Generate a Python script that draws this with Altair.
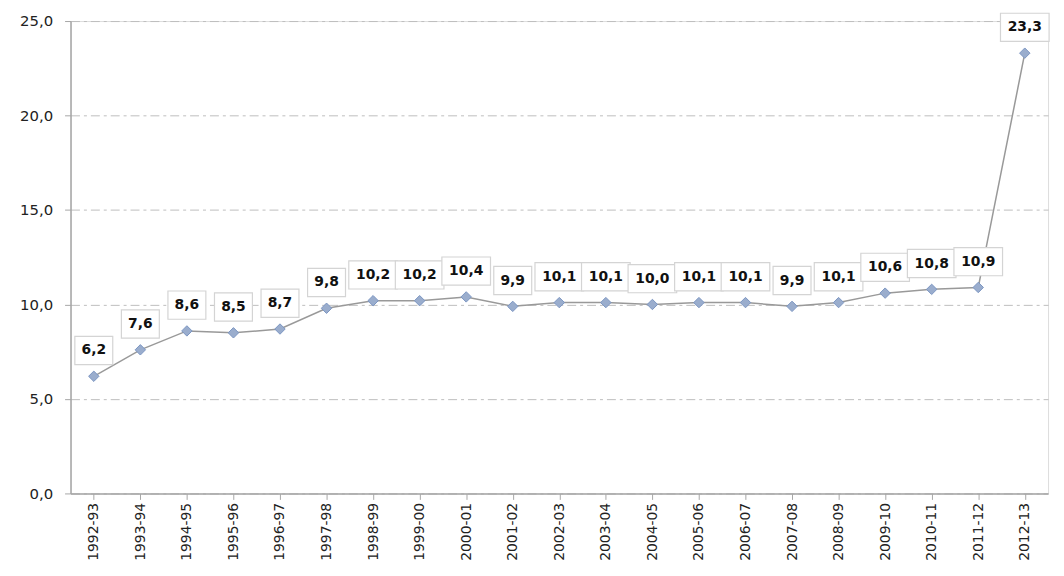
import altair as alt
import pandas as pd

years = ["1992-93", "1993-94", "1994-95", "1995-96", "1996-97", "1997-98", "1998-99",
         "1999-00", "2000-01", "2001-02", "2002-03", "2003-04", "2004-05", "2005-06",
         "2006-07", "2007-08", "2008-09", "2009-10", "2010-11", "2011-12", "2012-13"]
values = [6.2, 7.6, 8.6, 8.5, 8.7, 9.8, 10.2, 10.2, 10.4, 9.9, 10.1, 10.1, 10.0, 10.1,
          10.1, 9.9, 10.1, 10.6, 10.8, 10.9, 23.3]

df = pd.DataFrame({"year": years, "value": values})
df["label"] = df["value"].map(lambda v: f"{v:.1f}".replace(".", ","))
# box shapes (unit-square based custom path) depending on label length
narrow = "M-0.78,-0.58L0.78,-0.58L0.78,0.58L-0.78,0.58Z"
wide = "M-1,-0.58L1,-0.58L1,0.58L-1,0.58Z"
df["box"] = df["label"].map(lambda s: wide if len(s) > 3 else narrow)

FONT = "DejaVu Sans"

x = alt.X("year:N", sort=years, title=None,
          scale=alt.Scale(paddingInner=0, paddingOuter=0),
          axis=alt.Axis(labelAngle=-90, labelFontSize=14, labelFont=FONT, labelColor="#222",
                        bandPosition=0, ticks=True, tickColor="#a6a6a6", tickSize=6,
                        domainColor="#a6a6a6", domainWidth=1.5, labelPadding=3,
                        labelAlign="right", labelBaseline="middle", grid=False))
y = alt.Y("value:Q", title=None,
          scale=alt.Scale(domain=[0, 25], nice=False),
          axis=alt.Axis(values=[0, 5, 10, 15, 20, 25],
                        labelExpr="replace(format(datum.value, '.1f'), '.', ',')",
                        labelFontSize=15, labelFont=FONT, labelColor="#222",
                        tickColor="#a6a6a6", tickSize=6, labelPadding=12,
                        domainColor="#a6a6a6", domainWidth=1.5,
                        grid=True, gridColor="#bdbdbd", gridDash=[9, 4, 3, 4], gridWidth=1))

base = alt.Chart(df)

line = base.mark_line(color="#999999", strokeWidth=1.5).encode(x=x, y=y)
pts = base.mark_point(shape="diamond", filled=True, size=110, color="#9aadcd",
                      stroke="#7b95c2", strokeWidth=1, opacity=1).encode(x=x, y=y)
boxes = base.mark_point(filled=True, fill="white", stroke="#d4d4d4", strokeWidth=1.2,
                        opacity=1, size=2400, yOffset=-26).encode(
    x=x, y=y, shape=alt.Shape("box:N", scale=None))
texts = base.mark_text(fontWeight="bold", fontSize=14, font=FONT, color="#111",
                       yOffset=-26, baseline="middle").encode(x=x, y=y, text="label:N")

chart = (line + pts + boxes + texts).properties(
    width=985, height=476,
    autosize=alt.AutoSizeParams(type="none"),
    padding={"left": 63, "top": 11, "right": 8, "bottom": 73},
).configure_view(stroke=None).configure(background="white")

chart.save("out.html", embed_options={"renderer": "svg", "actions": False})
